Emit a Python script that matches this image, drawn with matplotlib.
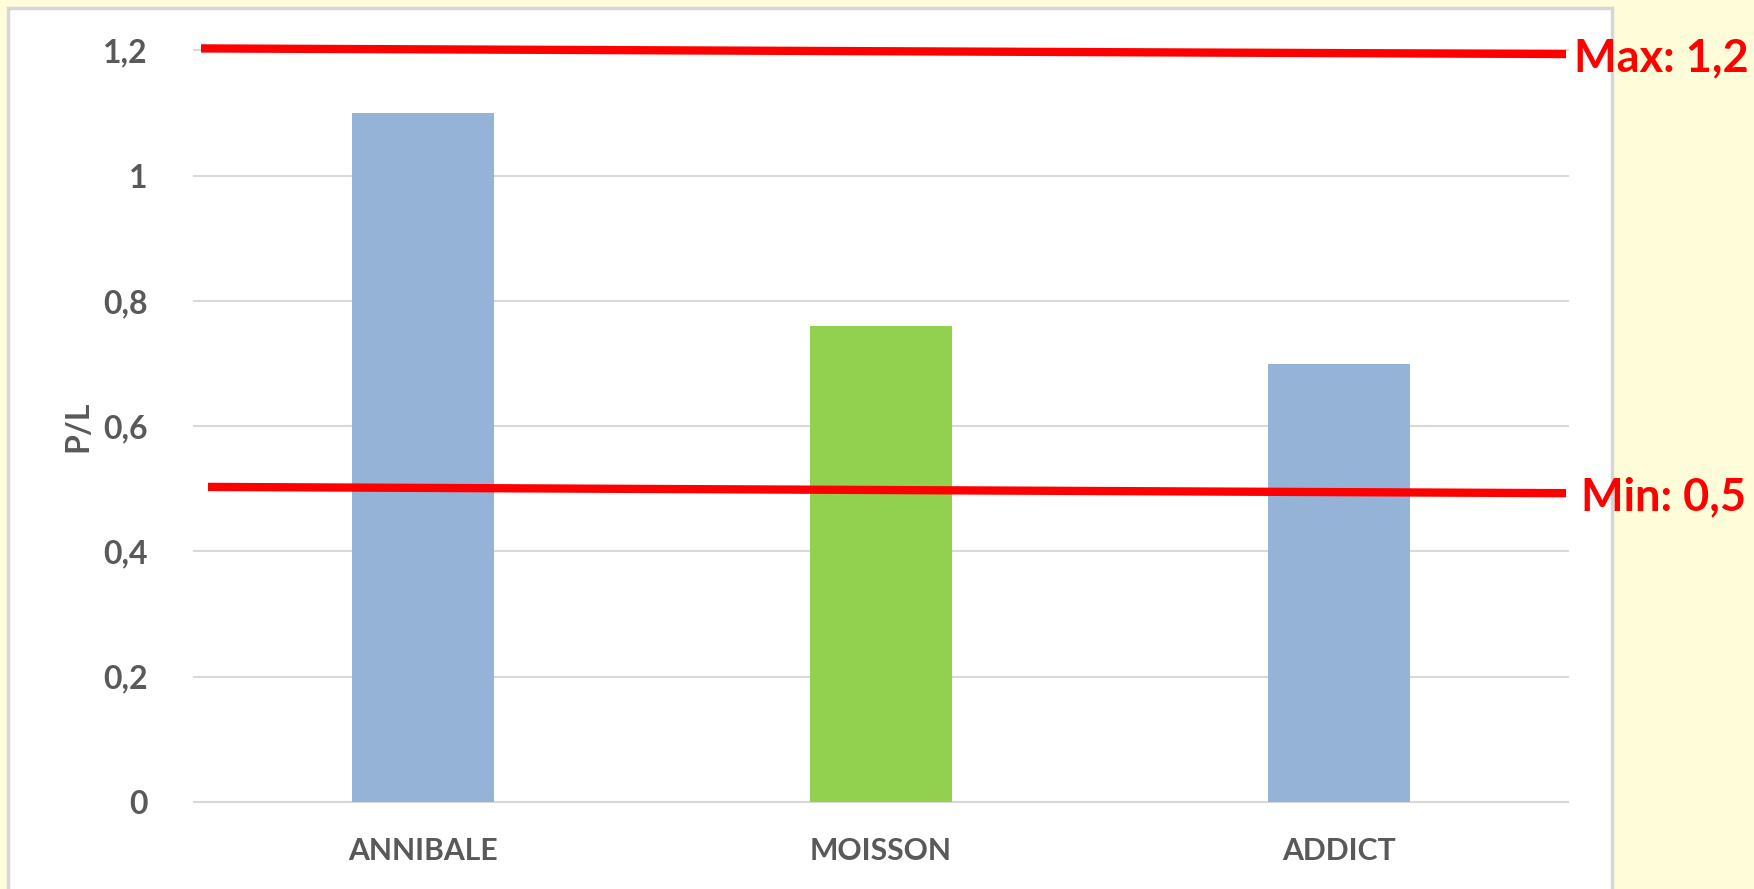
import matplotlib
matplotlib.use("Agg")
import matplotlib.pyplot as plt
from matplotlib.patches import Rectangle
import matplotlib.transforms as mtransforms

# ---- data ----
categories = ["ANNIBALE", "MOISSON", "ADDICT"]
values = [1.1, 0.76, 0.7]
bar_colors = ["#95B3D7", "#92D050", "#95B3D7"]
y_ticks = [0, 0.2, 0.4, 0.6, 0.8, 1.0, 1.2]
y_tick_labels = ["0", "0,2", "0,4", "0,6", "0,8", "1", "1,2"]
y_label = "P/L"
max_line = [1.203, 1.194]   # hand-drawn line, left/right ends
min_line = [0.503, 0.493]
max_text = "Max: 1,2"
min_text = "Min: 0,5"

FONT = ["Lato", "DejaVu Sans"]
GRAY = "#595959"
RED = "#FF0000"

W, H = 1754, 889
fig = plt.figure(figsize=(W / 100, H / 100), dpi=100)
fig.patch.set_facecolor("#FFFCDA")

# white chart panel with light gray border
panel = Rectangle((8 / W, -0.05), (1612 - 8) / W, (H - 8) / H + 0.05,
                  transform=fig.transFigure, facecolor="white",
                  edgecolor="#D6D6D6", linewidth=2.5, zorder=-10)
fig.patches.append(panel)

left_px, right_px, top_px, bot_px = 193.5, 1568, 50.3, 802
ax = fig.add_axes([left_px / W, 1 - bot_px / H, (right_px - left_px) / W,
                   (bot_px - top_px) / H])
ax.set_facecolor("none")

x = list(range(len(categories)))
ax.bar(x, values, width=0.31, color=bar_colors, zorder=3)
ax.set_xlim(-0.5, len(categories) - 0.5)
ax.set_ylim(0, 1.2)

ax.set_yticks(y_ticks)
ax.set_yticklabels(y_tick_labels, fontfamily=FONT, fontweight="bold",
                   fontsize=23, color=GRAY)
ax.set_xticks(x)
ax.set_xticklabels(categories, fontfamily=FONT, fontweight="bold",
                   fontsize=21.7, color=GRAY)
ax.tick_params(axis="y", length=0, pad=33)
ax.tick_params(axis="x", length=0, pad=25)

for s in ["top", "right", "left"]:
    ax.spines[s].set_visible(False)
ax.spines["bottom"].set_color("#D9D9D9")
ax.spines["bottom"].set_linewidth(1.5)
ax.yaxis.grid(True, color="#D9D9D9", linewidth=1.5, zorder=0)
ax.set_axisbelow(True)
for gl in ax.get_ygridlines():
    gl.set_clip_on(False)

ax.set_ylabel(y_label, fontfamily=FONT, fontweight="bold", fontsize=23,
              color=GRAY, labelpad=8)

# red annotation lines (x in axes fraction, y in data)
trans = mtransforms.blended_transform_factory(ax.transAxes, ax.transData)
ax.plot([(201 - left_px) / (right_px - left_px), (1566 - left_px) / (right_px - left_px)],
        max_line, color=RED, linewidth=6, transform=trans, clip_on=False,
        solid_capstyle="butt", zorder=5)
ax.plot([(208 - left_px) / (right_px - left_px), (1566 - left_px) / (right_px - left_px)],
        min_line, color=RED, linewidth=6, transform=trans, clip_on=False,
        solid_capstyle="butt", zorder=5)
ax.text((1574 - left_px) / (right_px - left_px), max_line[1], max_text,
        transform=trans, color=RED, fontfamily=FONT, fontweight="bold",
        fontsize=32.5, va="center_baseline", ha="left", clip_on=False)
ax.text((1581 - left_px) / (right_px - left_px), min_line[1], min_text,
        transform=trans, color=RED, fontfamily=FONT, fontweight="bold",
        fontsize=32.5, va="center_baseline", ha="left", clip_on=False)

fig.savefig("out.png", dpi=100)
